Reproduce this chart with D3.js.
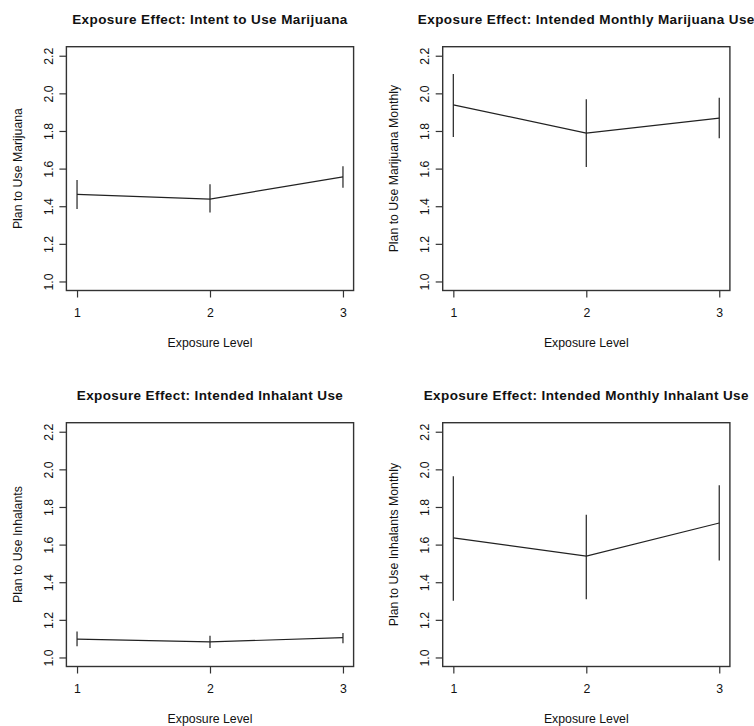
<!DOCTYPE html>
<html>
<head>
<meta charset="utf-8">
<script src="https://cdn.jsdelivr.net/npm/d3@7"></script>
<style>
  body { margin: 0; background: #fff; }
  svg { display: block; }
  text { font-family: "Liberation Sans", Arial, sans-serif; fill: #111; }
</style>
</head>
<body>
<svg id="chart" width="754" height="726"></svg>
<script>
// ---- data ----
const exposureLevels = [1, 2, 3];
const yTicks = [1.0, 1.2, 1.4, 1.6, 1.8, 2.0, 2.2];
const xTitle = "Exposure Level";
const panelTitles = [
  "Exposure Effect: Intent to Use Marijuana",
  "Exposure Effect: Intended Monthly Marijuana Use",
  "Exposure Effect: Intended Inhalant Use",
  "Exposure Effect: Intended Monthly Inhalant Use"
];
const yTitles = [
  "Plan to Use Marijuana",
  "Plan to Use Marijuana Monthly",
  "Plan to Use Inhalants",
  "Plan to Use Inhalants Monthly"
];
const meanMarijuana = [1.463, 1.438, 1.556];
const lowMarijuana = [1.385, 1.366, 1.498];
const highMarijuana = [1.539, 1.517, 1.613];

const meanMarijuanaMonthly = [1.939, 1.789, 1.868];
const lowMarijuanaMonthly = [1.768, 1.609, 1.762];
const highMarijuanaMonthly = [2.103, 1.969, 1.976];

const meanInhalant = [1.098, 1.083, 1.105];
const lowInhalant = [1.060, 1.050, 1.076];
const highInhalant = [1.138, 1.115, 1.130];

const meanInhalantMonthly = [1.636, 1.539, 1.715];
const lowInhalantMonthly = [1.302, 1.309, 1.516];
const highInhalantMonthly = [1.964, 1.759, 1.916];

const panels = [
  { title: panelTitles[0], ylab: yTitles[0], mean: meanMarijuana, low: lowMarijuana, high: highMarijuana },
  { title: panelTitles[1], ylab: yTitles[1], mean: meanMarijuanaMonthly, low: lowMarijuanaMonthly, high: highMarijuanaMonthly },
  { title: panelTitles[2], ylab: yTitles[2], mean: meanInhalant, low: lowInhalant, high: highInhalant },
  { title: panelTitles[3], ylab: yTitles[3], mean: meanInhalantMonthly, low: lowInhalantMonthly, high: highInhalantMonthly }
];

// ---- layout ----
const colOffsets = [0, 376.3];
const rowOffsets = [0, 376];
const box = { left: 66.4, right: 353.6, top: 46.7, bottom: 290.5 };
const labelSize = 12.3;

const svg = d3.select("#chart");

// R-style 4% extension
const xDom = [1 - 0.08, 3 + 0.08];
const yDom = [1.0 - 0.048, 2.2 + 0.048];
const x = d3.scaleLinear().domain(xDom).range([box.left, box.right]);
const y = d3.scaleLinear().domain(yDom).range([box.bottom, box.top]);

panels.forEach((p, i) => {
  const g = svg.append("g")
    .attr("transform", `translate(${colOffsets[i % 2]},${rowOffsets[Math.floor(i / 2)]})`);

  // plot box
  g.append("rect")
    .attr("x", box.left).attr("y", box.top)
    .attr("width", box.right - box.left).attr("height", box.bottom - box.top)
    .attr("fill", "none").attr("stroke", "#333").attr("stroke-width", 1.4);

  // x axis
  const xAxis = d3.axisBottom(x).tickValues(exposureLevels).tickSize(7).tickPadding(11)
    .tickFormat(d3.format("d"));
  const xg = g.append("g").attr("transform", `translate(0,${box.bottom})`).call(xAxis);
  xg.select(".domain").remove();
  xg.selectAll(".tick line").attr("stroke", "#333").attr("stroke-width", 1.2);
  xg.selectAll(".tick text").attr("font-size", labelSize).attr("fill", "#222")
    .attr("font-family", "Liberation Sans, Arial, sans-serif");

  // y axis
  const yAxis = d3.axisLeft(y).tickValues(yTicks).tickSize(7).tickFormat(d3.format(".1f"));
  const yg = g.append("g").attr("transform", `translate(${box.left},0)`).call(yAxis);
  yg.select(".domain").remove();
  yg.selectAll(".tick line").attr("stroke", "#333").attr("stroke-width", 1.2);
  yg.selectAll(".tick text")
    .attr("x", null).attr("dy", null)
    .attr("font-size", labelSize).attr("fill", "#222")
    .attr("font-family", "Liberation Sans, Arial, sans-serif")
    .attr("text-anchor", "middle")
    .attr("transform", `translate(${52.5 - box.left},0) rotate(-90)`);

  // title
  g.append("text")
    .attr("x", (box.left + box.right) / 2).attr("y", 24)
    .attr("text-anchor", "middle")
    .attr("font-size", 13.5).attr("font-weight", "bold").attr("fill", "#000")
    .attr("letter-spacing", 0.4)
    .text(p.title);

  // x title
  g.append("text")
    .attr("x", (box.left + box.right) / 2).attr("y", 347)
    .attr("text-anchor", "middle")
    .attr("font-size", labelSize).attr("fill", "#222")
    .text(xTitle);

  // y title
  g.append("text")
    .attr("transform", `translate(21.5,${(box.top + box.bottom) / 2}) rotate(-90)`)
    .attr("text-anchor", "middle")
    .attr("font-size", labelSize).attr("fill", "#222")
    .text(p.ylab);

  // error bars
  g.selectAll("line.err").data(exposureLevels).join("line")
    .attr("class", "err")
    .attr("x1", d => x(d)).attr("x2", d => x(d))
    .attr("y1", (d, j) => y(p.low[j])).attr("y2", (d, j) => y(p.high[j]))
    .attr("stroke", "#333").attr("stroke-width", 1.3);

  // mean line
  const line = d3.line().x(d => x(d)).y((d, j) => y(p.mean[j]));
  g.append("path").datum(exposureLevels)
    .attr("d", line)
    .attr("fill", "none").attr("stroke", "#222").attr("stroke-width", 1.2);
});
</script>
</body>
</html>
